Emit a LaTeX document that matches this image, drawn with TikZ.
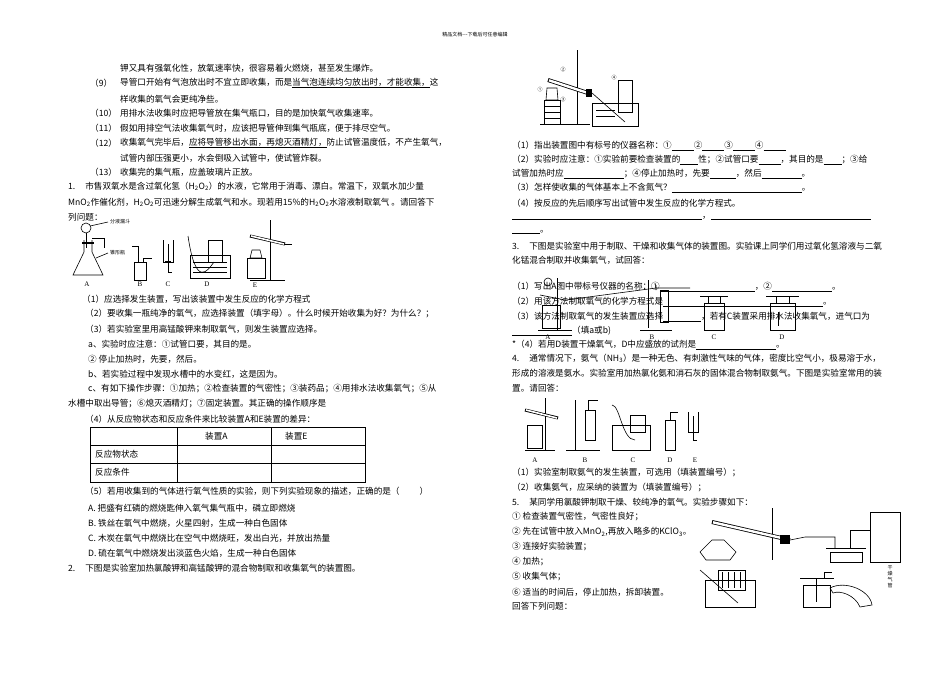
\documentclass[tikz,border=0pt]{standalone}
\usepackage{fontspec}
\setmainfont{Liberation Serif}
\newfontfamily\cjk{Noto Sans CJK SC}
\newcommand{\bl}[1]{\underline{\hspace{#1pt}}}
\newcommand{\sub}[1]{\textsubscript{#1}}
\begin{document}
\begin{tikzpicture}[x=1pt,y=-1pt,
  t/.style={anchor=west,inner sep=0pt,font=\cjk\fontsize{8.6}{9}\selectfont},
  sm/.style={inner sep=0pt,font=\cjk\fontsize{5}{6}\selectfont},
  lb/.style={inner sep=0pt,font=\fontsize{7}{8}\selectfont},
  ap/.style={draw=black,line width=0.6pt},
  thk/.style={draw=black,line width=1.4pt}]
\useasboundingbox (0,0) rectangle (950,672);
\fill[white] (0,0) rectangle (950,672);
\node[sm] (hdr) at (475,35) {精品文档---下载后可任意编辑};
% left column
\node[t] (l1) at (120,68) {钾又具有强氧化性，放氧速率快，很容易着火燃烧，甚至发生爆炸。};
\node[t] (n9) at (90,83) {（9）};
\node[t] (l2) at (120,83) {导管口开始有气泡放出时不宜立即收集，而是\underline{当气泡连续均匀放出时，才能收集，}这};
\node[t] (l3) at (120,99) {样收集的氧气会更纯净些。};
\node[t] (n10) at (90,113) {（10）};
\node[t] (l4) at (120,113) {用排水法收集时应把导管放在集气瓶口，目的是加快氧气收集速率。};
\node[t] (n11) at (90,128) {（11）};
\node[t] (l5) at (120,128) {假如用排空气法收集氧气时，应该把导管伸到集气瓶底，便于排尽空气。};
\node[t] (n12) at (90,143) {（12）};
\node[t] (l6) at (120,143) {收集氧气完毕后，\underline{应将导管移出水面，再熄灭酒精灯，}防止试管温度低，不产生氧气，};
\node[t] (l7) at (120,158) {试管内部压强更小，水会倒吸入试管中，使试管炸裂。};
\node[t] (n13) at (90,172) {（13）};
\node[t] (l8) at (120,172) {收集完的集气瓶，应盖玻璃片正放。};
\node[t] (q1) at (68,186) {1.\hspace{10pt}市售双氧水是含过氧化氢（H\sub{2}O\sub{2}）的水液，它常用于消毒、漂白。常温下，双氧水加少量};
\node[t] (q1b) at (68,202) {MnO\sub{2}作催化剂，H\sub{2}O\sub{2}可迅速分解生成氧气和水。现若用15\%的H\sub{2}O\sub{2}水溶液制取氧气 。请回答下};
\node[t] (q1c) at (68,217) {列问题：};
% fig 1
\draw[ap] (84,240) -- (84,252) -- (73,275) -- (103,275) -- (92,252) -- (92,240);
\draw[thk] (82,243) -- (94,243);
\draw[ap] (86,228) circle (5);
\draw[ap] (86,233) -- (86,248);
\draw[ap] (92,238) -- (104,238) -- (104,248);
\draw[ap] (90,226) -- (108,222); \node[sm,anchor=west] (fl) at (110,222) {分液漏斗};
\draw[ap] (96,258) -- (108,253); \node[sm,anchor=west] (zx) at (110,253) {锥形瓶};
\node[lb] (fa) at (87,284) {A};
\draw[ap] (134,262) rectangle (146,280);
\draw[ap] (138,262) -- (138,246) -- (132,246);
\draw[ap] (143,262) -- (143,258) -- (152,258);
\node[lb] (fb) at (140,284) {B};
\draw[ap] (163,240) -- (163,262) -- (173,262) -- (173,240);
\draw[ap] (168,244) -- (168,272) -- (172,272);
\draw[thk] (165,262) -- (171,262);
\node[lb] (fc) at (168,284) {C};
\draw[ap] (190,255) rectangle (230,278);
\draw[ap] (208,240) rectangle (222,262);
\draw[ap] (188,236) .. controls (196,290) and (208,270) .. (214,262);
\foreach \yy in {262,267,272} \draw[ap,line width=0.3pt] (193,\yy) -- (227,\yy);
\node[lb] (fd) at (207,284) {D};
\draw[ap] (270,220) -- (270,280); \draw[ap] (250,280) -- (285,280);
\draw[ap] (247,258) rectangle (265,278); \draw[ap] (252,250) -- (260,250) -- (262,258) -- (250,258) -- cycle;
\draw[line width=3pt] (250,236) -- (285,244);
\draw[white,line width=1.6pt] (251,236) -- (284,244);
\draw[ap] (285,244) -- (292,244);
\node[lb] (fe) at (255,285) {E};
% questions
\node[t] (a1) at (82,299) {（1）应选择发生装置，写出该装置中发生反应的化学方程式};
\node[t] (a2) at (85,314) {（2）要收集一瓶纯净的氧气，应选择装置（填字母）。什么时候开始收集为好？为什么？；};
\node[t] (a3) at (85,329) {（3）若实验室里用高锰酸钾来制取氧气，则发生装置应选择。};
\node[t] (a4) at (88,344) {a、实验时应注意：①试管口要，其目的是。};
\node[t] (a5) at (88,359) {② 停止加热时，先要，然后。};
\node[t] (a6) at (88,374) {b、若实验过程中发现水槽中的水变红，这是因为。};
\node[t] (a7) at (88,389) {c、有如下操作步骤：①加热；②检查装置的气密性；③装药品；④用排水法收集氧气；⑤从};
\node[t] (a8) at (68,404) {水槽中取出导管；⑥熄灭酒精灯；⑦固定装置。其正确的操作顺序是};
\node[t] (a9) at (85,419) {（4）从反应物状态和反应条件来比较装置A和E装置的差异：};
\draw[line width=0.5pt] (90,427) rectangle (365,482);
\draw[line width=0.5pt] (90,445) -- (365,445) (90,463) -- (365,463) (177,427) -- (177,482) (271,427) -- (271,482);
\node[t] (th1) at (205,436) {装置A};
\node[t] (th2) at (285,436) {装置E};
\node[t] (tr1) at (95,454) {反应物状态};
\node[t] (tr2) at (95,472) {反应条件};
\node[t] (a10) at (85,491) {（5）若用收集到的气体进行氧气性质的实验，则下列实验现象的描述，正确的是（\hspace{20pt}）};
\node[t] (o1) at (88,508) {A. 把盛有红磷的燃烧匙伸入氧气集气瓶中，磷立即燃烧};
\node[t] (o2) at (88,523) {B. 铁丝在氧气中燃烧，火星四射，生成一种白色固体};
\node[t] (o3) at (88,538) {C. 木炭在氧气中燃烧比在空气中燃烧旺，发出白光，并放出热量};
\node[t] (o4) at (88,553) {D. 硫在氧气中燃烧发出淡蓝色火焰，生成一种白色固体};
\node[t] (q2) at (68,568) {2.\hspace{10pt}下图是实验室加热氯酸钾和高锰酸钾的混合物制取和收集氧气的装置图。};
% right top apparatus
\draw[ap] (577,50) -- (577,124); \draw[ap] (540,124) -- (590,124);
\draw[ap] (544,100) rectangle (560,124);
\foreach \yy in {106,112,118} \draw[ap,line width=0.3pt] (544,\yy) -- (560,\yy);
\draw[ap] (547,88) -- (557,88) -- (558,100) -- (546,100) -- cycle;
\draw[line width=4pt] (548,80) -- (588,93);
\draw[white,line width=2.4pt] (549,80.3) -- (587,92.7);
\fill (586,89) rectangle (592,97);
\draw[ap] (592,93) -- (625,122);
\draw[ap] (592,103) rectangle (638,126);
\draw[ap] (618,80) rectangle (632,112);
\foreach \yy in {110,116} \draw[ap,line width=0.3pt] (596,\yy) -- (615,\yy);
\node[sm] (c1) at (540,90) {①}; \node[sm] (c2) at (563,70) {②};
\node[sm] (c3) at (563,100) {③}; \node[sm] (c4) at (614,78) {④};
% right column
\node[t] (r1) at (512,146) {（1）指出装置图中有标号的仪器名称：①\bl{22}②\bl{22}③\bl{22}④\bl{22}};
\node[t] (r2) at (512,160) {（2）实验时应注意：①实验前要检查装置的\bl{18}性；②试管口要\bl{22}，其目的是\bl{18}；③给};
\node[t] (r3) at (512,174) {试管加热时应\bl{60}；④停止加热时，先要\bl{26}，然后\bl{40}。};
\node[t] (r4) at (512,188) {（3）怎样使收集的气体基本上不含氮气？\bl{130}。};
\node[t] (r5) at (512,203) {（4）按反应的先后顺序写出试管中发生反应的化学方程式。};
\node[t] (r6) at (512,218) {\bl{190}，\bl{160}};
\node[t] (r7) at (512,232) {\bl{28}。};
\node[t] (r8) at (512,246) {3.\hspace{10pt}下图是实验室中用于制取、干燥和收集气体的装置图。实验课上同学们用过氧化氢溶液与二氧};
\node[t] (r9) at (512,260) {化锰混合制取并收集氧气，试回答：};
% fig 3
\draw[ap] (557,278) -- (557,330); \draw[ap] (538,330) -- (572,330);
\draw[ap] (542,305) rectangle (560,328); \draw[ap] (540,295) -- (565,300);
\draw[ap] (548,282) circle (4);
\draw[ap] (566,300) -- (656,288) -- (690,288) (656,285) -- (656,290);
\draw[ap] (648,280) -- (648,328) (660,290) rectangle (668,322);
\draw[ap] (640,330) -- (672,330);
\draw[ap] (704,303) rectangle (724,330); \draw[ap] (700,296) -- (728,296) (708,296) -- (708,303) (720,296) -- (720,303);
\draw[ap] (770,303) rectangle (795,330); \draw[ap] (766,296) -- (799,296) (776,296) -- (776,303) (789,296) -- (789,303);
\draw[ap] (778,312) -- (778,326);
\node[lb] (g3a) at (548,337) {A}; \node[lb] (g3b) at (652,337) {B};
\node[lb] (g3c) at (714,337) {C}; \node[lb] (g3d) at (782,337) {D};
\node[t] (s1) at (512,287) {（1）写出A图中带标号仪器的名称：①\bl{95}，②\bl{60}。};
\node[t] (s2) at (512,302) {（2）用该方法制取氧气的化学方程式是\bl{160}。};
\node[t] (s3) at (512,317) {（3）该方法制取氧气的发生装置应选择\bl{38}，若有C装置采用排水法收集氧气，进气口为};
\node[t] (s4) at (512,331) {\bl{60}（填a或b)};
\node[t] (s5) at (512,345) {*（4）若用D装置干燥氧气，D中应盛放的试剂是\bl{80}。};
\node[t] (s6) at (512,358) {4.\hspace{10pt}通常情况下，氨气（NH\sub{3}）是一种无色、有刺激性气味的气体，密度比空气小，极易溶于水，};
\node[t] (s7) at (512,373) {形成的溶液是氨水。实验室用加热氯化氨和消石灰的固体混合物制取氨气。下图是实验室常用的装};
\node[t] (s8) at (512,388) {置。请回答：};
% fig 4
\draw[ap] (545,398) -- (545,450); \draw[ap] (525,450) -- (555,450);
\draw[ap] (527,425) rectangle (542,448);
\draw[line width=3pt] (525,410) -- (558,418); \draw[white,line width=1.6pt] (526,410) -- (557,418);
\draw[ap] (575,400) -- (575,450); \draw[ap] (566,450) -- (600,450);
\draw[ap] (585,410) rectangle (595,440); \draw[ap] (588,410) -- (588,400) -- (598,400);
\draw[ap] (612,425) rectangle (650,450); \draw[ap] (630,415) rectangle (645,432);
\draw[ap] (612,405) .. controls (620,405) and (622,440) .. (635,440);
\draw[ap] (665,420) rectangle (675,450); \draw[ap] (670,420) -- (670,412) -- (678,412);
\draw[ap] (688,412) -- (688,432) -- (698,432) -- (698,412); \draw[ap] (693,416) -- (693,440) -- (697,440);
\node[lb] (g4a) at (535,460) {A}; \node[lb] (g4b) at (585,460) {B}; \node[lb] (g4c) at (633,460) {C};
\node[lb] (g4d) at (670,460) {D}; \node[lb] (g4e) at (695,460) {E};
\node[t] (u1) at (512,473) {（1）实验室制取氨气的发生装置，可选用（填装置编号）；};
\node[t] (u2) at (512,488) {（2）收集氨气，应采纳的装置为（填装置编号）；};
\node[t] (u3) at (512,502) {5.\hspace{10pt}某同学用氯酸钾制取干燥、较纯净的氧气。实验步骤如下：};
\node[t] (u4) at (512,517) {① 检查装置气密性，气密性良好；};
\node[t] (u5) at (512,532) {② 先在试管中放入MnO\sub{2},再放入略多的KClO\sub{3}。};
\node[t] (u6) at (512,547) {③ 连接好实验装置；};
\node[t] (u7) at (512,562) {④ 加热；};
\node[t] (u8) at (512,577) {⑤ 收集气体；};
\node[t] (u9) at (512,592) {⑥ 适当的时间后，停止加热，拆卸装置。};
\node[t] (u10) at (512,606) {回答下列问题：};
% fig 5
\draw[ap] (772,508) -- (772,560);
\draw[line width=4pt] (712,522) -- (790,540); \draw[white,line width=2.4pt] (713,522.3) -- (789,539.7);
\fill (780,535) rectangle (790,544);
\draw[ap] (790,540) -- (805,537) -- (835,537) -- (835,548);
\draw[ap] (700,552) -- (712,540) -- (724,540) -- (736,552) -- (730,560) -- (706,560) -- cycle;
\draw[ap] (830,552) rectangle (862,562); \draw[ap] (826,548) -- (866,548);
\draw[ap] (850,548) -- (850,530) -- (870,530); \draw[ap] (870,512) rectangle (900,562);
\draw[ap] (705,580) rectangle (755,607); \draw[ap] (718,570) rectangle (745,590);
\foreach \xx in {722,728,734,740} \draw[ap,line width=0.3pt] (\xx,572) -- (\xx,588);
\draw[ap] (700,570) -- (738,603);
\draw[ap] (803,585) rectangle (830,607); \draw[ap] (800,578) -- (834,578); \draw[ap] (816,578) -- (816,602) (824,578) -- (824,572) -- (832,572);
\draw[ap] (830,588) .. controls (845,580) and (870,590) .. (872,605) -- (860,607) .. controls (855,595) and (840,590) .. (833,593) -- cycle;
\node[sm,align=center] (gz) at (890,577) {干\\燥\\气\\管};
\end{tikzpicture}
\end{document}
